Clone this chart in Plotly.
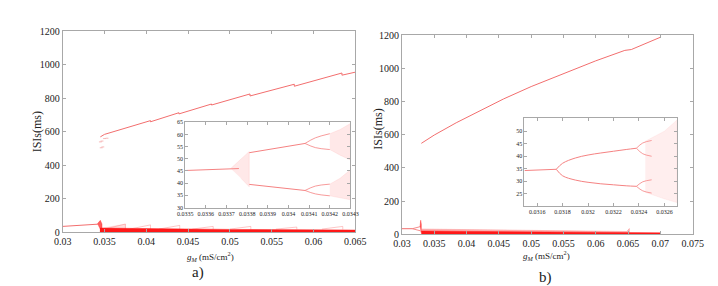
import plotly.graph_objects as go

# ---------------- Panel a: main ----------------
a_upper_x = [0.0345, 0.0350, 0.0405, 0.0405, 0.0439, 0.0439, 0.0478, 0.0478, 0.0524, 0.0524, 0.0577, 0.0577, 0.0634, 0.0634, 0.0650]
a_upper_y = [570, 585, 667, 660, 714, 707, 766, 760, 826, 814, 884, 872, 951, 938, 956]
a_stray_x = [0.0345, 0.0347, 0.0350, 0.0353, 0.0346, 0.0348]
a_stray_y = [540, 545, 560, 562, 505, 510]
a_left_x = [0.0300, 0.0320, 0.0341]
a_left_y = [36, 42, 49]
a_burst_x = [0.0341, 0.0343, 0.0345, 0.0347, 0.0347, 0.0345, 0.0343]
a_burst_y = [49, 62, 72, 50, 15, 20, 38]
a_band_x = [0.03445, 0.0400, 0.0500, 0.0650, 0.0650, 0.03445]
a_band_y = [26, 22, 18, 14, 1, 1]
a_faint_x = [0.0346, 0.0360, 0.0375, 0.0375, 0.0346]
a_faint_y = [25, 35, 50, 20, 20]
a_spike_pos = [0.0375, 0.0405, 0.0440, 0.0480, 0.0525, 0.0580, 0.0635]
a_spike_top = [50, 45, 42, 36, 36, 32, 36]

# ---------------- Panel a: inset ----------------
ia_p1_x = [0.03350, 0.03370, 0.03376]
ia_p1_y = [45.2, 45.6, 46.0]
ia_burst_x = [0.03372, 0.03377, 0.03381, 0.03381, 0.03377]
ia_burst_y = [46.0, 50.0, 53.0, 38.5, 42.0]
ia_p2_x = [0.03381, 0.03395, 0.03408]
ia_p2_up = [52.5, 54.4, 56.3]
ia_p2_lo = [39.5, 38.2, 37.0]
ia_p4_x = [0.03408, 0.03413, 0.03420]
ia_p4_uu = [56.3, 58.6, 60.3]
ia_p4_ul = [56.3, 54.6, 53.8]
ia_p4_lu = [37.0, 38.8, 39.6]
ia_p4_ll = [37.0, 35.6, 34.8]
ia_fan_x = [0.03420, 0.03425, 0.03430, 0.03430, 0.03425, 0.03420]
ia_fan_up_y = [60.3, 62.0, 64.5, 49.5, 51.5, 53.8]
ia_fan_lo_y = [39.6, 42.0, 45.5, 33.2, 34.0, 34.8]

# ---------------- Panel b: main ----------------
b_upper_x = [0.0330, 0.0350, 0.0384, 0.0420, 0.0457, 0.0500, 0.0547, 0.0600, 0.0645, 0.0650, 0.0655, 0.0700]
b_upper_y = [548, 598, 672, 745, 815, 890, 965, 1045, 1108, 1111, 1113, 1187]
b_left_x = [0.0300, 0.0316]
b_left_y = [34, 34]
b_fork_x = [0.0316, 0.0322, 0.0328]
b_fork_up = [34, 40, 46]
b_fork_lo = [34, 28, 22]
b_spike_x = [0.0328, 0.0329, 0.0330, 0.0330, 0.0329]
b_spike_y = [46, 85, 60, 10, 22]
b_band_x = [0.0330, 0.0450, 0.0600, 0.0700, 0.0700, 0.0330]
b_band_y = [20, 15, 12, 9, 1, 1]
b_wedge_x = [0.0330, 0.0450, 0.0600, 0.0648, 0.0652, 0.0652, 0.0600, 0.0450, 0.0330]
b_wedge_y = [32, 27, 20, 17, 35, 12, 12, 15, 20]

# ---------------- Panel b: inset ----------------
ib_p1_x = [0.03150, 0.03170, 0.03175]
ib_p1_y = [34.3, 34.6, 34.8]
ib_p2_x = [0.03175, 0.0318, 0.0319, 0.0320, 0.0321, 0.0322, 0.0323, 0.03238]
ib_p2_up = [34.8, 37.2, 39.3, 40.5, 41.3, 42.0, 42.7, 43.2]
ib_p2_lo = [34.8, 32.2, 30.5, 29.6, 29.0, 28.6, 28.2, 28.0]
ib_p4_x = [0.03238, 0.03243, 0.03250]
ib_p4_uu = [43.2, 45.3, 46.3]
ib_p4_ul = [43.2, 41.0, 40.0]
ib_p4_lu = [28.0, 29.8, 30.6]
ib_p4_ll = [28.0, 26.2, 25.3]
ib_fan_x = [0.03245, 0.03260, 0.03270, 0.03270, 0.03260, 0.03245]
ib_fan_y = [46.0, 50.0, 54.5, 21.5, 23.0, 25.6]

# ---------------- ticks ----------------
a_xticks = [0.03, 0.035, 0.04, 0.045, 0.05, 0.055, 0.06, 0.065]
a_xtext = ["0.03", "0.035", "0.04", "0.045", "0.05", "0.055", "0.06", "0.065"]
b_xticks = [0.03, 0.035, 0.04, 0.045, 0.05, 0.055, 0.06, 0.065, 0.07, 0.075]
b_xtext = ["0.03", "0.035", "0.04", "0.045", "0.05", "0.055", "0.06", "0.065", "0.07", "0.075"]
main_yticks = [0, 200, 400, 600, 800, 1000, 1200]
ia_xticks = [0.0335, 0.0336, 0.0337, 0.0338, 0.0339, 0.0340, 0.0341, 0.0342, 0.0343]
ia_xtext = ["0.0335", "0.0336", "0.0337", "0.0338", "0.0339", "0.034", "0.0341", "0.0342", "0.0343"]
ia_yticks = [30, 35, 40, 45, 50, 55, 60, 65]
ib_xticks = [0.0316, 0.0318, 0.0320, 0.0322, 0.0324, 0.0326]
ib_xtext = ["0.0316", "0.0318", "0.032", "0.0322", "0.0324", "0.0326"]
ib_yticks = [25, 30, 35, 40, 45, 50]

LINE = "rgb(242,110,110)"
RED = "rgb(255,25,25)"
FAINT = "rgba(255,150,150,0.22)"
INL = "rgb(245,130,130)"

fig = go.Figure()

def line(x, y, xa, ya, color=LINE, w=1.0, shape="linear"):
    fig.add_trace(go.Scatter(x=x, y=y, mode="lines", line=dict(color=color, width=w, shape=shape),
                             xaxis=xa, yaxis=ya, hoverinfo="skip", showlegend=False))

def poly(x, y, xa, ya, fill, lc=None, w=0.5):
    fig.add_trace(go.Scatter(x=x, y=y, mode="lines", fill="toself", fillcolor=fill,
                             line=dict(color=lc or fill, width=w),
                             xaxis=xa, yaxis=ya, hoverinfo="skip", showlegend=False))

# panel a main
line(a_upper_x, a_upper_y, "x", "y")
fig.add_trace(go.Scatter(x=a_stray_x, y=a_stray_y, mode="markers",
                         marker=dict(color="rgba(240,120,120,0.5)", size=2, symbol="line-ew-open"),
                         xaxis="x", yaxis="y", hoverinfo="skip", showlegend=False))
line(a_left_x, a_left_y, "x", "y")
poly(a_faint_x, a_faint_y, "x", "y", "rgba(255,150,150,0.3)")
for sx, st in zip(a_spike_pos, a_spike_top):
    line([sx - 0.0025, sx, sx], [20, st, 18], "x", "y", color="rgba(250,140,140,0.7)", w=0.7)
poly(a_burst_x, a_burst_y, "x", "y", "rgba(255,40,40,0.75)")
poly(a_band_x, a_band_y, "x", "y", RED, RED)

# panel a inset
line(ia_p1_x, ia_p1_y, "x2", "y2", INL)
poly(ia_burst_x, ia_burst_y, "x2", "y2", FAINT, "rgba(255,150,150,0.3)")
line(ia_p2_x, ia_p2_up, "x2", "y2", INL)
line(ia_p2_x, ia_p2_lo, "x2", "y2", INL)
for yy in (ia_p4_uu, ia_p4_ul, ia_p4_lu, ia_p4_ll):
    line(ia_p4_x, yy, "x2", "y2", INL, 0.8, "spline")
poly(ia_fan_x, ia_fan_up_y, "x2", "y2", FAINT, "rgba(255,150,150,0.3)")
poly(ia_fan_x, ia_fan_lo_y, "x2", "y2", FAINT, "rgba(255,150,150,0.3)")

# panel b main
line(b_upper_x, b_upper_y, "x3", "y3")
line(b_left_x, b_left_y, "x3", "y3")
line(b_fork_x, b_fork_up, "x3", "y3", w=0.8)
line(b_fork_x, b_fork_lo, "x3", "y3", w=0.8)
poly(b_spike_x, b_spike_y, "x3", "y3", "rgba(255,40,40,0.8)")
poly(b_wedge_x, b_wedge_y, "x3", "y3", "rgba(255,110,110,0.5)", "rgba(250,130,130,0.8)")
poly(b_band_x, b_band_y, "x3", "y3", RED, RED)

# panel b inset
line(ib_p1_x, ib_p1_y, "x4", "y4", INL)
line(ib_p2_x, ib_p2_up, "x4", "y4", INL, shape="spline")
line(ib_p2_x, ib_p2_lo, "x4", "y4", INL, shape="spline")
for yy in (ib_p4_uu, ib_p4_ul, ib_p4_lu, ib_p4_ll):
    line(ib_p4_x, yy, "x4", "y4", INL, 0.8, "spline")
poly(ib_fan_x, ib_fan_y, "x4", "y4", "rgba(255,160,160,0.18)", "rgba(255,160,160,0.25)")

FONT = "Liberation Serif"
GRID = "#a8a8a8"

def ax(domain, rng, tv, tt, size, anchor):
    return dict(domain=domain, range=rng, tickvals=tv, ticktext=tt, anchor=anchor,
                showline=True, linecolor=GRID, linewidth=1, mirror="ticks",
                ticks="inside", ticklen=3, tickcolor=GRID, showgrid=False, zeroline=False,
                tickfont=dict(family=FONT, size=size, color="#222"))

fig.update_layout(
    width=718, height=286, margin=dict(l=0, r=0, t=0, b=0),
    paper_bgcolor="white", plot_bgcolor="white",
    xaxis=ax([0.0655, 0.4847], [0.03, 0.065], a_xticks, a_xtext, 10, "y"),
    yaxis=ax([0.2028, 0.937], [0, 1200], main_yticks, [str(v) for v in main_yticks], 10, "x"),
    xaxis2=ax([0.241, 0.4777], [0.0335, 0.0343], ia_xticks, ia_xtext, 6, "y2"),
    yaxis2=ax([0.2937, 0.6049], [30, 65], ia_yticks, [str(v) for v in ia_yticks], 6, "x2"),
    xaxis3=ax([0.5515, 0.968], [0.03, 0.075], b_xticks, b_xtext, 10, "y3"),
    yaxis3=ax([0.1958, 0.923], [0, 1200], main_yticks, [str(v) for v in main_yticks], 10, "x3"),
    xaxis4=ax([0.727, 0.9457], [0.0315, 0.0327], ib_xticks, ib_xtext, 6, "y4"),
    yaxis4=ax([0.3007, 0.6189], [20.3, 55.1], ib_yticks, [str(v) for v in ib_yticks], 6, "x4"),
)

xtitle = "<i>g</i><sub><i>M</i></sub> (mS/cm<sup>2</sup>)"
ann = [
    dict(text="ISIs(ms)", x=0.028, y=0.57, textangle=-90, size=12),
    dict(text="ISIs(ms)", x=0.518, y=0.58, textangle=-90, size=12),
    dict(text=xtitle, x=0.277, y=0.115, textangle=0, size=9),
    dict(text=xtitle, x=0.759, y=0.118, textangle=0, size=9),
    dict(text="a)", x=0.259, y=0.056, textangle=0, size=15),
    dict(text="b)", x=0.757, y=0.040, textangle=0, size=15),
]
for a in ann:
    fig.add_annotation(text=a["text"], x=a["x"], y=a["y"], xref="paper", yref="paper",
                       showarrow=False, textangle=a["textangle"], xanchor="center", yanchor="middle",
                       font=dict(family=FONT, size=a["size"], color="#222"))

fig.write_html("out.html")
